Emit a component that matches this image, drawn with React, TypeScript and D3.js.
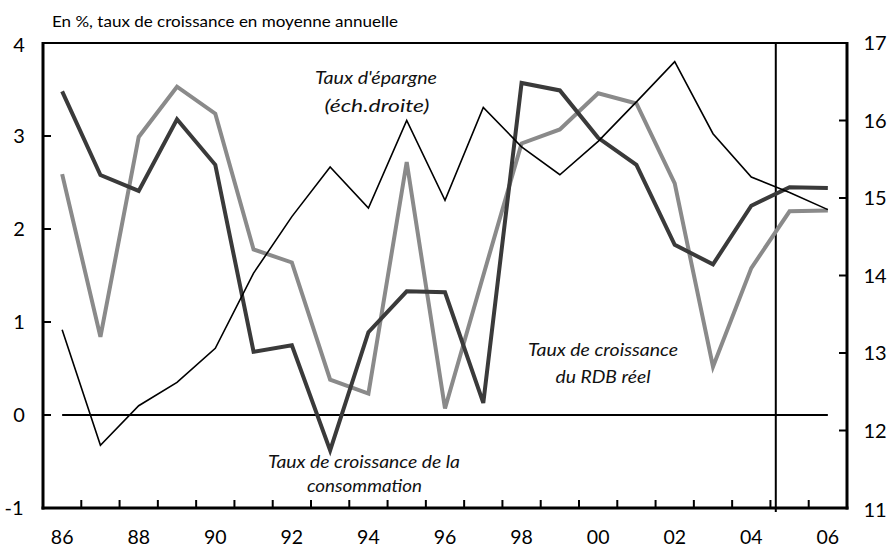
import React from "react";
import * as d3 from "d3";

const years = d3.range(1986, 2007);
const conso = [3.48, 2.58, 2.41, 3.18, 2.69, 0.68, 0.75, -0.38, 0.89, 1.33, 1.32, 0.13, 3.57, 3.49, 2.98, 2.69, 1.83, 1.62, 2.25, 2.45, 2.44];
const rdb = [2.59, 0.84, 2.99, 3.53, 3.24, 1.78, 1.64, 0.38, 0.23, 2.72, 0.07, 1.5, 2.92, 3.07, 3.46, 3.35, 2.49, 0.52, 1.58, 2.19, 2.2];
const epargne = [13.3, 11.81, 12.32, 12.62, 13.06, 14.03, 14.76, 15.4, 14.87, 16.0, 14.97, 16.17, 15.66, 15.3, 15.73, 16.24, 16.76, 15.83, 15.27, 15.07, 14.85];
const leftTicks = [-1, 0, 1, 2, 3, 4];
const rightTicks = [11, 12, 13, 14, 15, 16, 17];
const xLabels = ["86", "88", "90", "92", "94", "96", "98", "00", "02", "04", "06"];
const splitYear = 2004.64;
const title = "En %, taux de croissance en moyenne annuelle";

const W = 890, H = 549;
const L = 43, R = 847, T = 43, B = 508;
const FONT = "Lato, 'Open Sans', sans-serif";

export default function App() {
  const x = d3.scaleLinear().domain([1985.5, 2006.5]).range([L, R]);
  const yL = d3.scaleLinear().domain([-1, 4]).range([B, T]);
  const yR = d3.scaleLinear().domain([11, 17]).range([B, T]);

  const lineL = d3.line<number>().x((_, i) => x(years[i])).y((d) => yL(d));
  const lineR = d3.line<number>().x((_, i) => x(years[i])).y((d) => yR(d));

  const boundaries = d3.range(1986, 2007).map((yv) => yv - 0.5);

  return (
    <svg width={W} height={H} style={{ position: "absolute", left: 0, top: 0, background: "#fff" }} fontFamily={FONT}>
      <text x={52} y={27} fontSize={16} fill="#000" textLength={346} lengthAdjust="spacingAndGlyphs">{title}</text>

      {/* frame */}
      <line x1={L} x2={R} y1={T} y2={T} stroke="#000" strokeWidth={2} />
      <line x1={L} x2={L} y1={T - 1} y2={B + 1.5} stroke="#000" strokeWidth={3} />
      <line x1={R} x2={R} y1={T - 1} y2={B + 1.5} stroke="#000" strokeWidth={3} />
      <line x1={L - 1.5} x2={R + 1.5} y1={B} y2={B} stroke="#000" strokeWidth={3} />

      {/* left ticks */}
      {leftTicks.map((t) => (
        <g key={"l" + t}>
          <line x1={L} x2={L + 8} y1={yL(t)} y2={yL(t)} stroke="#000" strokeWidth={2} />
          <text x={t < 0 ? 14 : 19} y={yL(t) + (t === 4 ? 2 : 0)} dy="0.36em" textAnchor="middle" fontSize={20}>{t}</text>
        </g>
      ))}
      {/* right ticks */}
      {rightTicks.map((t) => (
        <g key={"r" + t}>
          <line x1={R - 8} x2={R} y1={yR(t)} y2={yR(t)} stroke="#000" strokeWidth={2} />
          <text x={875} y={yR(t) + (t === 11 ? 2 : 0)} dy="0.36em" textAnchor="middle" fontSize={20}>{t}</text>
        </g>
      ))}
      {/* bottom ticks */}
      {boundaries.slice(1).map((b) => (
        <line key={"b" + b} x1={x(b)} x2={x(b)} y1={B - 8} y2={B} stroke="#000" strokeWidth={2} />
      ))}
      {xLabels.map((lab, i) => (
        <text key={"x" + lab} x={x(years[i * 2])} y={537} dy="0.36em" textAnchor="middle" fontSize={19.5}>{lab}</text>
      ))}

      {/* zero line */}
      <line x1={x(years[0])} x2={x(years[years.length - 1])} y1={yL(0)} y2={yL(0)} stroke="#000" strokeWidth={2} />
      {/* forecast split */}
      <line x1={x(splitYear)} x2={x(splitYear)} y1={T - 1} y2={B + 4} stroke="#000" strokeWidth={2} />

      {/* series */}
      <path d={lineL(rdb) || ""} fill="none" stroke="#8a8a8a" strokeWidth={4} strokeLinejoin="miter" />
      <path d={lineL(conso) || ""} fill="none" stroke="#3a3a3a" strokeWidth={4} strokeLinejoin="miter" />
      <path d={lineR(epargne) || ""} fill="none" stroke="#000" strokeWidth={1.6} />

      {/* annotations */}
      <g fontStyle="italic" fontSize={16.5} textAnchor="middle" fill="#111">
        <text x={376} y={78} dy="0.36em" textLength={122} lengthAdjust="spacingAndGlyphs">Taux d'épargne</text>
        <text x={377} y={106} dy="0.36em" textLength={105} lengthAdjust="spacingAndGlyphs">(éch.droite)</text>
        <text x={603} y={350} dy="0.36em" textLength={150} lengthAdjust="spacingAndGlyphs">Taux de croissance</text>
        <text x={603} y={377} dy="0.36em" textLength={95} lengthAdjust="spacingAndGlyphs">du RDB réel</text>
        <text x={364} y={462} dy="0.36em" textLength={192} lengthAdjust="spacingAndGlyphs">Taux de croissance de la</text>
        <text x={364.5} y={486} dy="0.36em" textLength={115} lengthAdjust="spacingAndGlyphs">consommation</text>
      </g>
    </svg>
  );
}
